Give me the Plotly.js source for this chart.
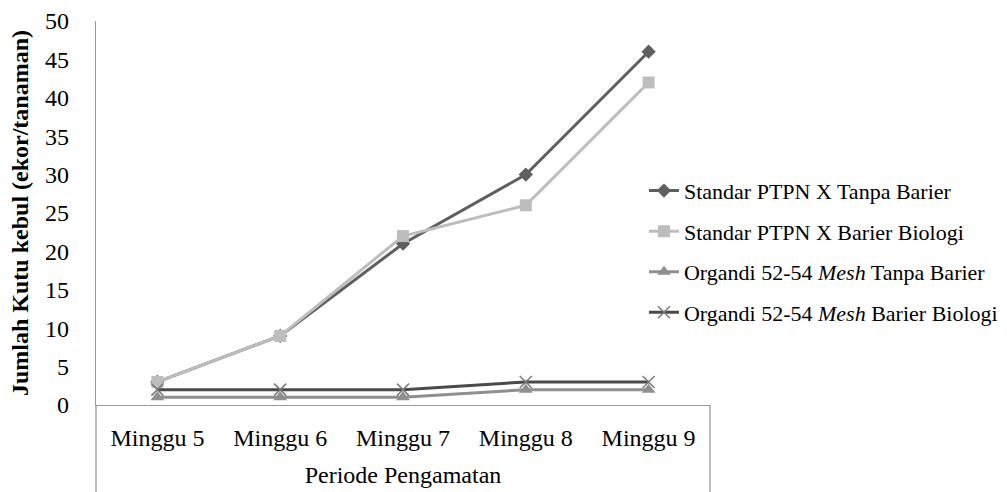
<!DOCTYPE html>
<html>
<head>
<meta charset="utf-8">
<script src="https://cdn.plot.ly/plotly-3.0.1.min.js"></script>
<style>html,body{margin:0;padding:0;background:#fff;}#chart{width:1007px;height:492px;}</style>
</head>
<body>
<div id="chart"></div>
<script>
const categories = ["Minggu 5", "Minggu 6", "Minggu 7", "Minggu 8", "Minggu 9"];
const seriesNames = [
  "Standar PTPN X Tanpa Barier",
  "Standar PTPN X Barier Biologi",
  "Organdi 52-54 <i>Mesh</i> Tanpa Barier",
  "Organdi 52-54 <i>Mesh</i> Barier Biologi"
];
const standarTanpa = [3, 9, 21, 30, 46];
const standarBiologi = [3, 9, 22, 26, 42];
const organdiTanpa = [1, 1, 1, 2, 2];
const organdiBiologi = [2, 2, 2, 3, 3];
const yTicks = [0, 5, 10, 15, 20, 25, 30, 35, 40, 45, 50];

const font = "Liberation Serif";

const traces = [
  {y: standarTanpa, name: seriesNames[0], color: "#5f5f5f", symbol: "diamond", size: 11, lw: 3},
  {y: standarBiologi, name: seriesNames[1], color: "#bdbdbd", symbol: "square", size: 12, lw: 3},
  {y: organdiTanpa, name: seriesNames[2], color: "#8f8f8f", symbol: "triangle-up", size: 12, lw: 3},
  {y: organdiBiologi, name: seriesNames[3], color: "#4a4a4a", symbol: "x-thin", size: 12, lw: 3}
].map((t, i) => ({
  type: "scatter",
  mode: "lines+markers",
  x: categories,
  y: t.y,
  name: t.name,
  legendgroup: "g" + i,
  line: {color: t.color, width: t.lw},
  marker: {symbol: t.symbol, size: t.size, color: t.color,
           line: {color: t.symbol === "x-thin" ? "#7a7a7a" : t.color, width: t.symbol === "x-thin" ? 1.5 : 0}}
}));

const layout = {
  width: 1007, height: 492,
  margin: {l: 96, r: 297, t: 21, b: 87, autoexpand: false},
  paper_bgcolor: "#fff", plot_bgcolor: "#fff",
  font: {family: font, size: 24, color: "#000"},
  showlegend: true,
  legend: {
    xref: "container", yref: "container",
    x: 0.6395, y: 0.655, xanchor: "left", yanchor: "top",
    font: {family: font, size: 22, color: "#000"},
    traceorder: "grouped", tracegroupgap: 9,
    bgcolor: "rgba(0,0,0,0)"
  },
  xaxis: {
    type: "category",
    range: [-0.5, 4.5],
    automargin: false,
    showline: true, linecolor: "#9a9a9a", linewidth: 1.3,
    showgrid: false, zeroline: false, ticks: "",
    ticklabelstandoff: 11,
    tickfont: {family: font, size: 24, color: "#000"},
    title: {text: "Periode Pengamatan", font: {family: font, size: 24, color: "#000"}, standoff: 16}
  },
  yaxis: {
    range: [0, 50],
    tickvals: yTicks,
    automargin: false,
    showline: true, linecolor: "#9a9a9a", linewidth: 1.3,
    showgrid: false, zeroline: false, ticks: "",
    ticklabelstandoff: 21,
    tickfont: {family: font, size: 24, color: "#000"},
    title: {text: "<b>Jumlah Kutu kebul (ekor/tanaman)</b>", font: {family: font, size: 24, color: "#000"}, standoff: 9}
  },
  shapes: [
    {type: "line", xref: "paper", yref: "paper", x0: 0, x1: 0, y0: 0, y1: -0.23, line: {color: "#9a9a9a", width: 1.3}},
    {type: "line", xref: "paper", yref: "paper", x0: 1, x1: 1, y0: 0, y1: -0.23, line: {color: "#9a9a9a", width: 1.3}}
  ]
};

Plotly.newPlot("chart", traces, layout, {displayModeBar: false, staticPlot: true});
</script>
</body>
</html>
